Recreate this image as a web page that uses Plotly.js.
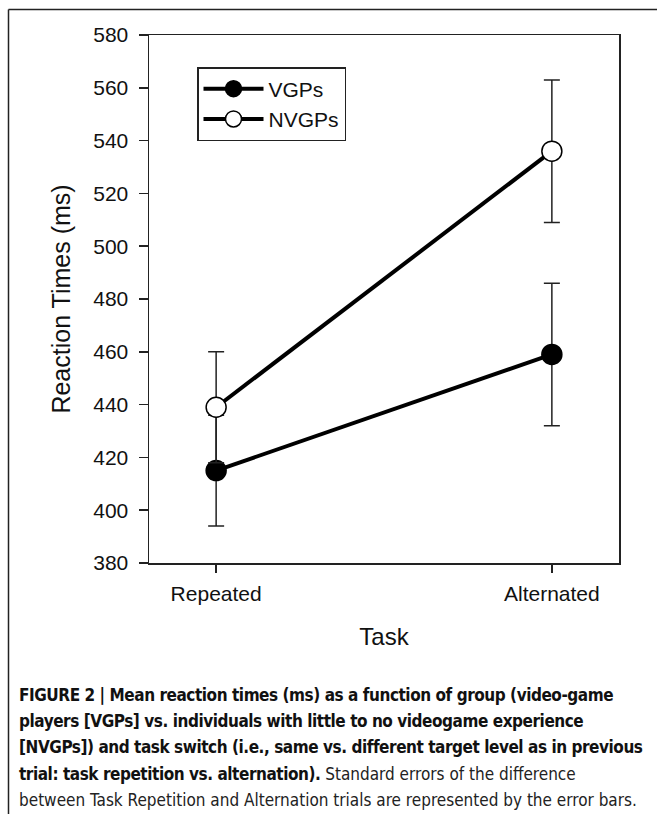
<!DOCTYPE html>
<html>
<head>
<meta charset="utf-8">
<script src="https://cdn.plot.ly/plotly-3.0.1.min.js"></script>
<style>html,body{margin:0;padding:0;background:#fff;}#chart{width:657px;height:814px;}</style>
</head>
<body>
<div id="chart"></div>
<script>
// ---- data ----
const categories = ['Repeated', 'Alternated'];
const vgpRT = [415, 459];
const vgpErr = [21, 27];
const nvgpRT = [439, 536];
const nvgpErr = [21, 27];
const seriesNames = ['VGPs', 'NVGPs'];
const yTickVals = [380, 400, 420, 440, 460, 480, 500, 520, 540, 560, 580];
const yTitle = 'Reaction Times (ms)';
const xTitle = 'Task';
const captionBold = [
  'FIGURE 2 | Mean reaction times (ms) as a function of group (video-game',
  'players [VGPs] vs. individuals with little to no videogame experience',
  '[NVGPs]) and task switch (i.e., same vs. different target level as in previous',
  'trial: task repetition vs. alternation).',
  ''
];
const captionRegular = [
  '',
  '',
  '',
  ' Standard errors of the difference',
  'between Task Repetition and Alternation trials are represented by the error bars.'
];

const W = 657, H = 814;
const M = {l: 149, r: 38, t: 35, b: 251};
const pw = W - M.l - M.r, ph = H - M.t - M.b;
const px2x = p => (p - M.l) / pw;
const py2y = p => 1 - (p - M.t) / ph;

const baseFont = 'Liberation Sans, Arial, Helvetica, sans-serif';
const capFont = 'Liberation Sans Narrow, Arial Narrow, DejaVu Sans Condensed, Liberation Sans, sans-serif';

const traces = [
  {
    x: categories, y: vgpRT, name: seriesNames[0], type: 'scatter', mode: 'lines+markers',
    line: {color: '#000', width: 4},
    marker: {size: 20, color: '#000', line: {color: '#000', width: 1.5}},
    error_y: {type: 'data', array: vgpErr, visible: true, color: '#222', thickness: 1.5, width: 8}
  },
  {
    x: categories, y: nvgpRT, name: seriesNames[1], type: 'scatter', mode: 'lines+markers',
    line: {color: '#000', width: 4},
    marker: {size: 20, color: '#fff', line: {color: '#000', width: 1.5}},
    error_y: {type: 'data', array: nvgpErr, visible: true, color: '#222', thickness: 1.5, width: 8}
  }
];

function captionLine(i) {
  let t = '';
  if (captionBold[i]) t += '<span style="font-weight:bold;letter-spacing:-0.45px">' + captionBold[i] + '</span>';
  if (captionRegular[i]) t += '<span style="color:#222">' + captionRegular[i] + '</span>';
  return t;
}

const annotations = captionBold.map((_, i) => ({
  xref: 'paper', yref: 'paper', x: px2x(17), y: py2y(695 + 26.2 * i), xanchor: 'left', yanchor: 'middle',
  align: 'left', showarrow: false,
  text: captionLine(i),
  font: {family: capFont, size: 17, color: '#111'}
}));

const layout = {
  width: W, height: H,
  margin: M,
  paper_bgcolor: '#fff', plot_bgcolor: '#fff',
  font: {family: baseFont, color: '#111', size: 21},
  showlegend: true,
  legend: {
    x: px2x(197), y: py2y(67), xanchor: 'left', yanchor: 'top',
    bgcolor: '#fff', bordercolor: '#222', borderwidth: 1.5,
    font: {family: baseFont, size: 21, color: '#111'},
    itemwidth: 60, tracegroupgap: 0
  },
  xaxis: {
    type: 'category', range: [-0.2, 1.2],
    showline: true, mirror: true, linecolor: '#222', linewidth: 1.5,
    ticks: 'outside', ticklen: 8, tickwidth: 1.5, tickcolor: '#222',
    tickfont: {size: 21}, ticklabelstandoff: 3,
    showgrid: false, zeroline: false, fixedrange: true,
    title: {text: xTitle, font: {size: 24, color: '#111'}, standoff: 24}
  },
  yaxis: {
    range: [380, 580], tickvals: yTickVals, ticktext: yTickVals.map(String),
    showline: true, mirror: true, linecolor: '#222', linewidth: 1.5,
    ticks: 'outside', ticklen: 9, tickwidth: 1.5, tickcolor: '#222',
    tickfont: {size: 21}, ticklabelstandoff: 6,
    showgrid: false, zeroline: false, fixedrange: true,
    title: {text: yTitle, font: {size: 25, color: '#111'}, standoff: 15}
  },
  shapes: [
    {type: 'line', xref: 'paper', yref: 'paper', x0: px2x(8.5), x1: px2x(700), y0: py2y(9.5), y1: py2y(9.5),
     line: {color: '#222', width: 1.5}, layer: 'above'},
    {type: 'line', xref: 'paper', yref: 'paper', x0: px2x(8.5), x1: px2x(8.5), y0: py2y(9.5), y1: py2y(900),
     line: {color: '#222', width: 1.5}, layer: 'above'}
  ],
  annotations: annotations
};

Plotly.newPlot('chart', traces, layout, {displayModeBar: false, staticPlot: true});
</script>
</body>
</html>
